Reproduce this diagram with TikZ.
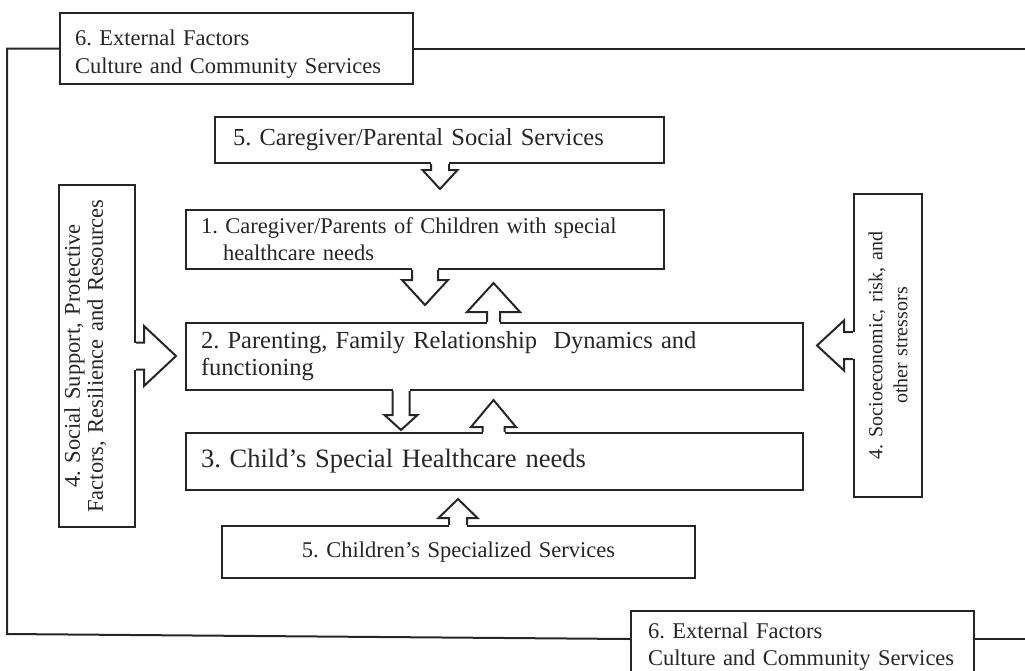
\documentclass[tikz,border=0pt]{standalone}
\usepackage{fontspec}
\setmainfont{Liberation Serif}
\frenchspacing
\usetikzlibrary{calc}
\newcommand{\hollowarrow}[6]{%
  \begin{scope}[shift={(#1)},rotate=#2]
    \fill[white] (-2,-#4) rectangle (#3,#4);
    \filldraw[fill=white] (0,-#4) -- (#3,-#4) -- (#3,-#6) -- ({#3+#5},0) -- (#3,#6) -- (#3,#4) -- (0,#4);
  \end{scope}}
\begin{document}
\begin{tikzpicture}[x=1pt,y=-1pt,line width=2pt,color=black!85,
  box/.style={draw,fill=white,anchor=north west,inner ysep=0pt,align=left},
  sidebox/.style={draw,fill=white,rotate=90,inner ysep=0pt,align=center}]
\useasboundingbox (0,0) rectangle (1025,670);
\node[box,inner xsep=15pt,text width=323pt,minimum height=71pt,font=\fontsize{22.5}{28}\selectfont] (ext6a) at (59,12) {\rule{0pt}{27pt}6. External Factors\\Culture and Community Services};
\node[box,inner xsep=17pt,text width=309pt,minimum height=72pt,font=\fontsize{22.5}{27}\selectfont] (ext6b) at (630,610) {6. External Factors\\Culture and Community Services};
\draw (ext6a.west) -- (7,0 |- ext6a.west) -- (7,634) -- (ext6b.west |- 0,639);
\draw (ext6a.east) -- (1025,0 |- ext6a.east);
\draw (ext6b.east |- 0,639) -- (1025,639);
\node[box,inner xsep=18pt,text width=413pt,minimum height=46pt,font=\fontsize{24.5}{28}\selectfont] (care5) at (214,116) {5. Caregiver/Parental Social Services};
\node[box,inner xsep=15pt,text width=448pt,minimum height=59pt,font=\fontsize{22.5}{27}\selectfont] (parents1) at (185,209) {1. Caregiver/Parents of Children with special\\\hspace*{22pt}healthcare needs};
\node[box,inner xsep=15pt,text width=587pt,minimum height=67pt,font=\fontsize{24.5}{27}\selectfont] (family2) at (185,322) {2. Parenting, Family Relationship\ \ Dynamics and\\functioning};
\node[box,inner xsep=15pt,text width=587pt,minimum height=57pt,font=\fontsize{26.5}{30}\selectfont] (child3) at (185,432) {3. Child's Special Healthcare needs};
\node[box,align=center,inner xsep=10pt,text width=453pt,minimum height=52pt,font=\fontsize{22.5}{27}\selectfont] (kids5) at (221,525) {5. Children's Specialized Services};
\node[sidebox,inner xsep=11pt,text width=320pt,minimum height=76pt,font=\fontsize{22.5}{23}\selectfont] (support4) at (97,356) {4. Social Support, Protective\\Factors, Resilience and Resources\\[4pt]\mbox{}};
\node[sidebox,inner xsep=11pt,text width=281pt,minimum height=68pt,font=\fontsize{20}{25}\selectfont] (stress4) at (888,345.5) {4. Socioeconomic, risk, and\\other stressors};
\hollowarrow{440,0 |- care5.south}{-90}{6}{9}{19}{17.5}
\hollowarrow{425,0 |- parents1.south}{-90}{10}{13}{25}{23}
\hollowarrow{493.5,0 |- family2.north}{90}{10}{6.5}{29}{26.5}
\hollowarrow{401,0 |- family2.south}{-90}{24}{8.5}{15}{16.5}
\hollowarrow{493.5,0 |- child3.north}{90}{5}{11}{27}{22.5}
\hollowarrow{458,0 |- kids5.north}{90}{7}{9}{19}{19.5}
\hollowarrow{support4.south}{0}{8}{13.5}{32}{30}
\hollowarrow{stress4.north}{180}{9}{13.5}{27}{25}
\end{tikzpicture}
\end{document}
